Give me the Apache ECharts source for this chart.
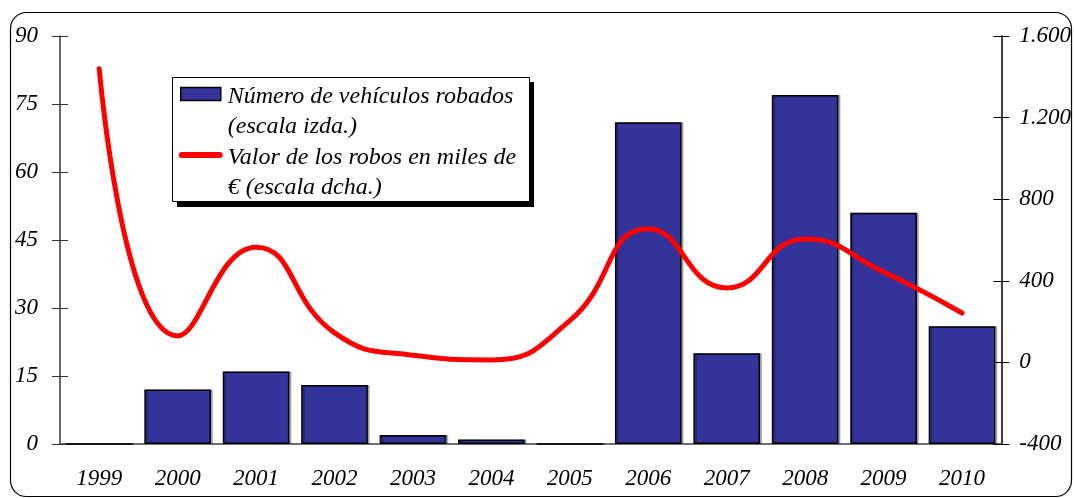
<!DOCTYPE html>
<html>
<head>
<meta charset="utf-8">
<script src="https://cdn.jsdelivr.net/npm/echarts@6/dist/echarts.min.js"></script>
<style>
  html, body { margin: 0; padding: 0; background: #fff; }
  #chart { width: 1074px; height: 498px; }
</style>
</head>
<body>
<div id="chart"></div>
<script>
// years on the category axis
const years = ["1999", "2000", "2001", "2002", "2003", "2004", "2005", "2006", "2007", "2008", "2009", "2010"];
// vehicles stolen (left scale)
const vehiculos = [0, 12, 16, 13, 2, 1, 0, 71, 20, 77, 51, 26];
// value of thefts, thousands of euros (right scale)
const valorRobos = [1440, 130, 565, 145, 35, 12, 205, 655, 365, 605, 443, 242];

const barName = "Número de vehículos robados\n(escala izda.)";
const lineName = "Valor de los robos en miles de\n€ (escala dcha.)";

const font = "Liberation Serif";
const labelStyle = { fontFamily: font, fontStyle: "italic", fontSize: 23, color: "#000" };

// 1600 -> "1.600"
const fmtMiles = v => String(v).replace(/\B(?=(\d{3})+(?!\d))/g, ".");

// legend icons: the trailing moves stretch the box so the icon sits on the first text line
const barIcon = "path://M2,0 L42,0 L42,13 L2,13 Z M0,0 M44,49";
const lineIcon = "path://M3,3.5 L41,3.5 A3,3 0 0 1 41,9.5 L3,9.5 A3,3 0 0 1 3,3.5 Z M0,0 M44,49";

let myChart = echarts.init(document.getElementById("chart"));
myChart.setOption({
    animation: false,
    grid: { left: 60, right: 72, top: 36, bottom: 54 },
    legend: {
        orient: "vertical",
        left: 178,
        top: 82,
        itemWidth: 44,
        itemHeight: 49,
        itemGap: 1,
        padding: 0,
        z: 10,
        textStyle: {
            fontFamily: font,
            fontStyle: "italic",
            fontSize: 24,
            color: "#000",
            lineHeight: 30
        },
        data: [
            { name: barName, icon: barIcon, itemStyle: { color: "#333399", borderColor: "#000", borderWidth: 1.5 } },
            { name: lineName, icon: lineIcon, itemStyle: { color: "#ff0000", borderWidth: 0 } }
        ]
    },
    xAxis: [
        {
            type: "category",
            data: years,
            position: "bottom",
            axisLine: { lineStyle: { color: "#000", width: 1.5 } },
            axisTick: { length: 8, lineStyle: { color: "#444" } },
            axisLabel: Object.assign({ margin: 23, interval: 0 }, labelStyle)
        },
        {
            type: "category",
            data: years,
            position: "bottom",
            axisLine: { show: false },
            axisTick: { inside: true, length: 8, lineStyle: { color: "#444" } },
            axisLabel: { show: false }
        },
        {
            type: "category",
            data: years,
            position: "top",
            axisLine: { lineStyle: { color: "#808080", width: 1.5 } },
            axisTick: { show: false },
            axisLabel: { show: false }
        }
    ],
    yAxis: [
        {
            type: "value",
            position: "left",
            min: 0,
            max: 90,
            interval: 15,
            axisLine: { show: true, lineStyle: { color: "#333", width: 1.5 } },
            axisTick: { show: true, length: 8, lineStyle: { color: "#333" } },
            axisLabel: Object.assign({ margin: 22 }, labelStyle),
            splitLine: { show: false }
        },
        {
            type: "value",
            position: "right",
            min: -400,
            max: 1600,
            interval: 400,
            axisLine: { show: true, lineStyle: { color: "#000", width: 1.5 } },
            axisTick: { show: true, length: 8, lineStyle: { color: "#000" } },
            axisLabel: Object.assign({ margin: 18, formatter: fmtMiles }, labelStyle),
            splitLine: { show: false }
        },
        {
            type: "value",
            position: "left",
            min: 0,
            max: 90,
            interval: 15,
            axisLine: { show: false },
            axisTick: { show: true, inside: true, length: 8, lineStyle: { color: "#333" } },
            axisLabel: { show: false },
            splitLine: { show: false }
        },
        {
            type: "value",
            position: "right",
            min: -400,
            max: 1600,
            interval: 400,
            axisLine: { show: false },
            axisTick: { show: true, inside: true, length: 8, lineStyle: { color: "#000" } },
            axisLabel: { show: false },
            splitLine: { show: false }
        }
    ],
    series: [
        {
            name: barName,
            type: "bar",
            yAxisIndex: 0,
            barCategoryGap: "15%",
            data: vehiculos,
            itemStyle: {
                color: "#333399",
                borderColor: "#000",
                borderWidth: 1.5,
                shadowColor: "rgba(0,0,0,0.25)",
                shadowOffsetX: 2,
                shadowBlur: 0
            }
        },
        {
            name: lineName,
            type: "line",
            yAxisIndex: 1,
            smooth: 0.5,
            symbol: "none",
            data: valorRobos,
            z: 5,
            itemStyle: { color: "#ff0000" },
            lineStyle: { color: "#ff0000", width: 5, cap: "round" }
        }
    ],
    graphic: [
        {
            type: "rect",
            silent: true,
            shape: { x: 10.5, y: 12.5, width: 1061, height: 484, r: 16 },
            style: { fill: "none", stroke: "#000", lineWidth: 1.2 }
        },
        // legend frame and its drop shadow
        {
            type: "rect",
            silent: true,
            z: 8,
            shape: { x: 177, y: 82, width: 357, height: 125 },
            style: { fill: "#000" }
        },
        {
            type: "rect",
            silent: true,
            z: 9,
            shape: { x: 172.5, y: 77.5, width: 357, height: 124 },
            style: { fill: "#fff", stroke: "#000", lineWidth: 1 }
        }
    ]
});
</script>
</body>
</html>
